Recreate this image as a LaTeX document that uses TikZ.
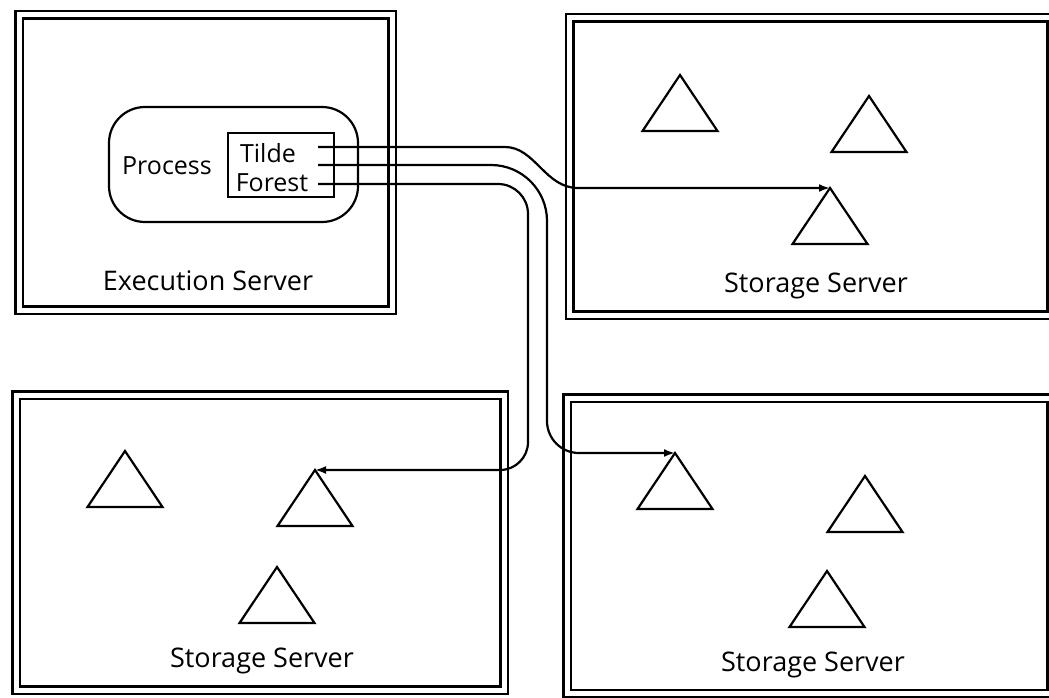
\documentclass[tikz,border=0pt]{standalone}
\usepackage{fontspec}
\setmainfont{Open Sans}
\usetikzlibrary{arrows.meta}
\begin{document}
\begin{tikzpicture}[x=1pt,y=-1pt,
  server/.style={draw, double, double distance=5pt, line width=2.5pt, rectangle, inner sep=0pt},
  lbl/.style={font=\fontsize{27}{32}\selectfont, inner sep=0pt, anchor=base},
  small/.style={font=\fontsize{25}{30}\selectfont, inner sep=0pt, anchor=base},
  tri/.style={line width=2.2pt, line join=miter},
  link/.style={line width=2.2pt, -{Latex[length=11pt,width=8pt]}}
]
\useasboundingbox (0,0) rectangle (1049,698);
\clip (0,0) rectangle (1049,698);
\fill[white] (0,0) rectangle (1049,698);

% servers
\node[server, minimum width=373pt, minimum height=295pt] (exec) at (205.75,162.5) {};
\node[server, minimum width=481.5pt, minimum height=297pt] (ssTR) at (810.25,166.5) {};
\node[server, minimum width=488pt, minimum height=295pt] (ssBL) at (260,542.5) {};
\node[server, minimum width=484pt, minimum height=295.5pt] (ssBR) at (809,545.75) {};

% labels
\node[lbl] (execL) at (208,290) {Execution Server};
\node[lbl] (trL) at (816,292) {Storage Server};
\node[lbl] (blL) at (262,667) {Storage Server};
\node[lbl] (brL) at (813,671) {Storage Server};

% process
\node[draw, line width=2.2pt, rounded corners=36pt, minimum width=249pt, minimum height=115pt, inner sep=0pt] (proc) at (233.5,164.5) {};
\node[draw, line width=2pt, minimum width=106pt, minimum height=64pt, inner sep=0pt] (tf) at (281,165) {};
\node[small] (procL) at (167,174) {Process};
\node[small] (tildeL) at (268,162) {Tilde};
\node[small] (forestL) at (272,191) {Forest};

% triangle apexes
\coordinate (trA) at (680,75);
\coordinate (trB) at (869,96);
\coordinate (trC) at (830,188);
\coordinate (blA) at (125,451);
\coordinate (blB) at (315,470);
\coordinate (blC) at (277,567);
\coordinate (brA) at (675,453);
\coordinate (brB) at (865,476);
\coordinate (brC) at (827,571);
\foreach \t in {trA,trB,trC,blA,blB,blC,brA,brB,brC}
  \draw[tri] (\t) -- ++(-37.5,56) -- ++(75,0) -- cycle;

% link start points
\coordinate (s1) at (318,147);
\coordinate (s2) at (318,165);
\coordinate (s3) at (318,184);

% links
\draw[link] (s1) -- (505,147) .. controls (535,147) and (545,188) .. (578,188) -- (trC);
\draw[link] (s2) [rounded corners=56pt]-- (547,165) [rounded corners=32pt]-- (547,453) [sharp corners]-- (brA);
\draw[link] (s3) [rounded corners=30pt]-- (528,184) [rounded corners=28pt]-- (528,470) [sharp corners]-- (blB);
\end{tikzpicture}
\end{document}
